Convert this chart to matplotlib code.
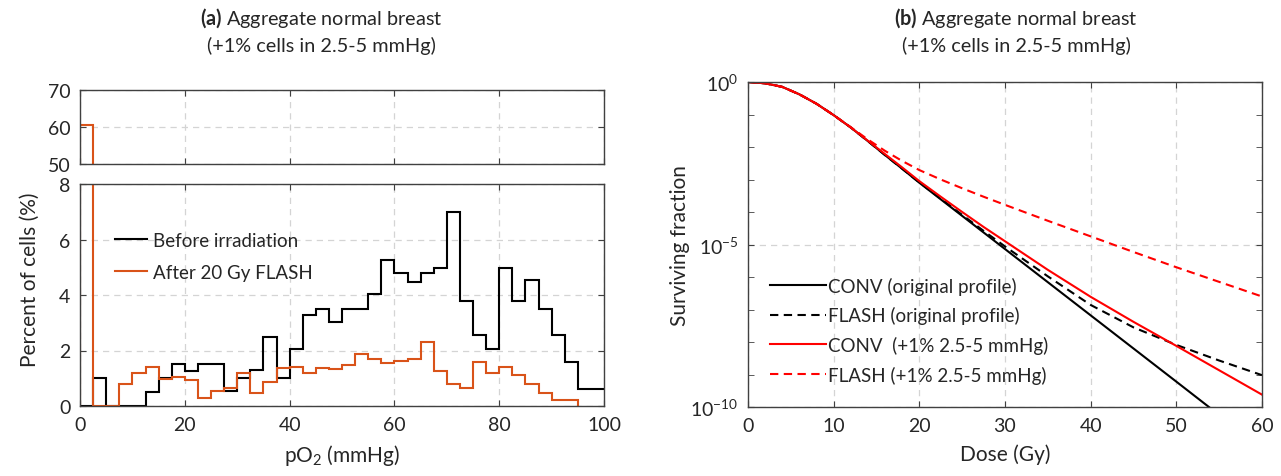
import numpy as np
import matplotlib
matplotlib.use("Agg")
import matplotlib.pyplot as plt
from matplotlib.ticker import FixedLocator, NullFormatter, FixedFormatter

# ---------------- data ----------------
po2_edges = np.arange(0, 100.01, 2.5)
before_irr = [0, 1.0, 0, 0, 0, 0.5, 1.0, 1.53, 1.26, 1.53,
              1.53, 0.54, 1.02, 1.29, 2.5, 1.02, 2.05, 3.29, 3.49, 3.03,
              3.49, 3.49, 4.03, 5.26, 4.78, 4.48, 4.78, 4.99, 7.0, 3.79,
              2.56, 2.05, 4.99, 3.79, 4.55, 3.51, 2.56, 1.6, 0.6, 0.6]
after_flash = [60.6, 0, 0, 0.78, 1.18, 1.41, 0.99, 1.06, 0.94, 0.3,
               0.54, 0.64, 1.18, 0.46, 0.88, 1.36, 1.42, 1.2, 1.36, 1.32,
               1.48, 1.89, 1.68, 1.56, 1.62, 1.68, 2.32, 1.26, 0.81, 0.66,
               1.6, 1.2, 1.41, 1.11, 0.78, 0.48, 0.2, 0.2]
after_edges = np.arange(0, 95.01, 2.5)

dose = [0, 2, 4, 6, 8, 10, 12, 14, 16, 18, 20, 22.5, 25, 27.5, 30, 35, 40, 45, 50, 55, 60]
dose_conv_orig = [0, 2, 4, 6, 8, 10, 12, 14, 16, 18, 20, 22.5, 25, 27.5, 30, 35, 40, 45, 50, 54]
log_conv_orig = [0, -0.04, -0.15, -0.38, -0.67, -1.02, -1.4, -1.82, -2.25, -2.67, -3.1,
                 -3.61, -4.12, -4.63, -5.14, -6.16, -7.18, -8.2, -9.22, -10.04]
log_flash_orig = [0, -0.04, -0.15, -0.38, -0.67, -1.02, -1.4, -1.82, -2.25, -2.67, -3.09,
                  -3.59, -4.09, -4.58, -5.06, -5.98, -6.86, -7.55, -8.09, -8.57, -9.02]
log_conv_plus = [0, -0.04, -0.15, -0.38, -0.67, -1.02, -1.4, -1.81, -2.22, -2.63, -3.05,
                 -3.53, -4.0, -4.46, -4.9, -5.78, -6.61, -7.38, -8.12, -8.87, -9.62]
log_flash_plus = [0, -0.04, -0.15, -0.38, -0.67, -1.02, -1.39, -1.77, -2.12, -2.43, -2.71,
                  -3.0, -3.27, -3.53, -3.78, -4.27, -4.75, -5.23, -5.7, -6.15, -6.6]

hist_labels = ["Before irradiation", "After 20 Gy FLASH"]
sf_labels = ["CONV (original profile)", "FLASH (original profile)",
             "CONV  (+1% 2.5-5 mmHg)", "FLASH (+1% 2.5-5 mmHg)"]

# ---------------- style ----------------
FONT = "Lato"
plt.rcParams["font.family"] = [FONT, "DejaVu Sans"]
plt.rcParams["mathtext.fontset"] = "custom"
plt.rcParams["mathtext.rm"] = FONT
plt.rcParams["mathtext.bf"] = FONT + ":bold"
plt.rcParams["mathtext.default"] = "regular"
TXT = "#262626"
AX = "#404040"
GRID = "#d4d4d4"
ORANGE = "#D95319"
TICKFS = 14
LABFS = 15

W, H = 1281, 477
fig = plt.figure(figsize=(W / 100, H / 100), dpi=100)


def px_axes(x0, y0, x1, y1):
    return fig.add_axes([x0 / W, 1 - y1 / H, (x1 - x0) / W, (y1 - y0) / H])


def style(ax):
    for s in ax.spines.values():
        s.set_color(AX)
        s.set_linewidth(1.0)
    ax.tick_params(direction="in", which="both", top=True, right=True,
                   colors=AX, labelcolor=TXT, labelsize=TICKFS, length=4, pad=7)
    ax.set_axisbelow(True)


gkw = dict(color=GRID, linestyle=(0, (5, 4)), linewidth=0.9)

# ---- left panels ----
axt = px_axes(80, 91, 604, 165)
axb = px_axes(80, 185, 604, 407)
for ax in (axt, axb):
    style(ax)
    ax.stairs(before_irr, po2_edges, baseline=None, color="black", lw=1.5)
    ax.stairs(after_flash, after_edges, baseline=0, color=ORANGE, lw=1.5)
    ax.set_xlim(0, 100)
    ax.xaxis.set_major_locator(FixedLocator([0, 20, 40, 60, 80, 100]))
    ax.grid(True, **gkw)
axt.set_ylim(50, 70)
axt.set_yticks([50, 60, 70])
axt.tick_params(labelbottom=False)
axb.set_ylim(0, 8)
axb.set_yticks([0, 2, 4, 6, 8])
axb.set_xlabel("pO$_2$ (mmHg)", fontsize=LABFS, color=TXT, labelpad=7)

h1, = axb.plot([], [], color="black", lw=1.5)
h2, = axb.plot([], [], color=ORANGE, lw=1.5)
axb.legend([h1, h2], hist_labels, frameon=False, fontsize=13.5,
           loc="upper left", bbox_to_anchor=(0.035, 0.86), handlelength=1.7,
           handletextpad=0.3, labelspacing=0.8, labelcolor=TXT)

fig.text(30 / W, 1 - 280 / H, "Percent of cells (%)", rotation=90,
         ha="center", va="center", fontsize=LABFS, color=TXT)

# ---- right panel ----
axr = px_axes(748, 83, 1262, 408)
style(axr)
axr.plot(dose_conv_orig, 10.0 ** np.array(log_conv_orig), color="black", lw=1.5,
         label=sf_labels[0])
axr.plot(dose, 10.0 ** np.array(log_flash_orig), color="black", lw=1.5,
         linestyle=(0, (4, 2.6)), label=sf_labels[1])
axr.plot(dose, 10.0 ** np.array(log_conv_plus), color="red", lw=1.5,
         label=sf_labels[2])
axr.plot(dose, 10.0 ** np.array(log_flash_plus), color="red", lw=1.5,
         linestyle=(0, (4, 2.6)), label=sf_labels[3])
axr.set_yscale("log")
axr.set_xlim(0, 60)
axr.set_ylim(1e-10, 1)
axr.xaxis.set_major_locator(FixedLocator([0, 10, 20, 30, 40, 50, 60]))
axr.yaxis.set_major_locator(FixedLocator([1e-10, 1e-5, 1]))
axr.yaxis.set_major_formatter(FixedFormatter(["$10^{-10}$", "$10^{-5}$", "$10^{0}$"]))
axr.yaxis.set_minor_locator(FixedLocator([10.0 ** -k for k in range(1, 10)]))
axr.yaxis.set_minor_formatter(NullFormatter())
axr.grid(True, which="major", **gkw)
axr.set_xlabel("Dose (Gy)", fontsize=LABFS, color=TXT, labelpad=7)
axr.set_ylabel("Surviving fraction", fontsize=LABFS, color=TXT)
axr.yaxis.set_label_coords((690 - 748) / 514, 0.5)
axr.legend(frameon=False, fontsize=13.5, loc="lower left",
           bbox_to_anchor=(0.01, 0.02), handlelength=3.0, handletextpad=0.08,
           labelspacing=0.62, labelcolor=TXT)

# ---- titles ----
for cx, tag in ((321, "a"), (1016, "b")):
    fig.text(cx / W, 1 - 18 / H, r"$\bf{(" + tag + r")}$ Aggregate normal breast",
             ha="center", va="center", fontsize=14.3, color=TXT)
    fig.text(cx / W, 1 - 46 / H, "(+1% cells in 2.5-5 mmHg)",
             ha="center", va="center", fontsize=14.3, color=TXT)

fig.savefig("out.png", dpi=100)
